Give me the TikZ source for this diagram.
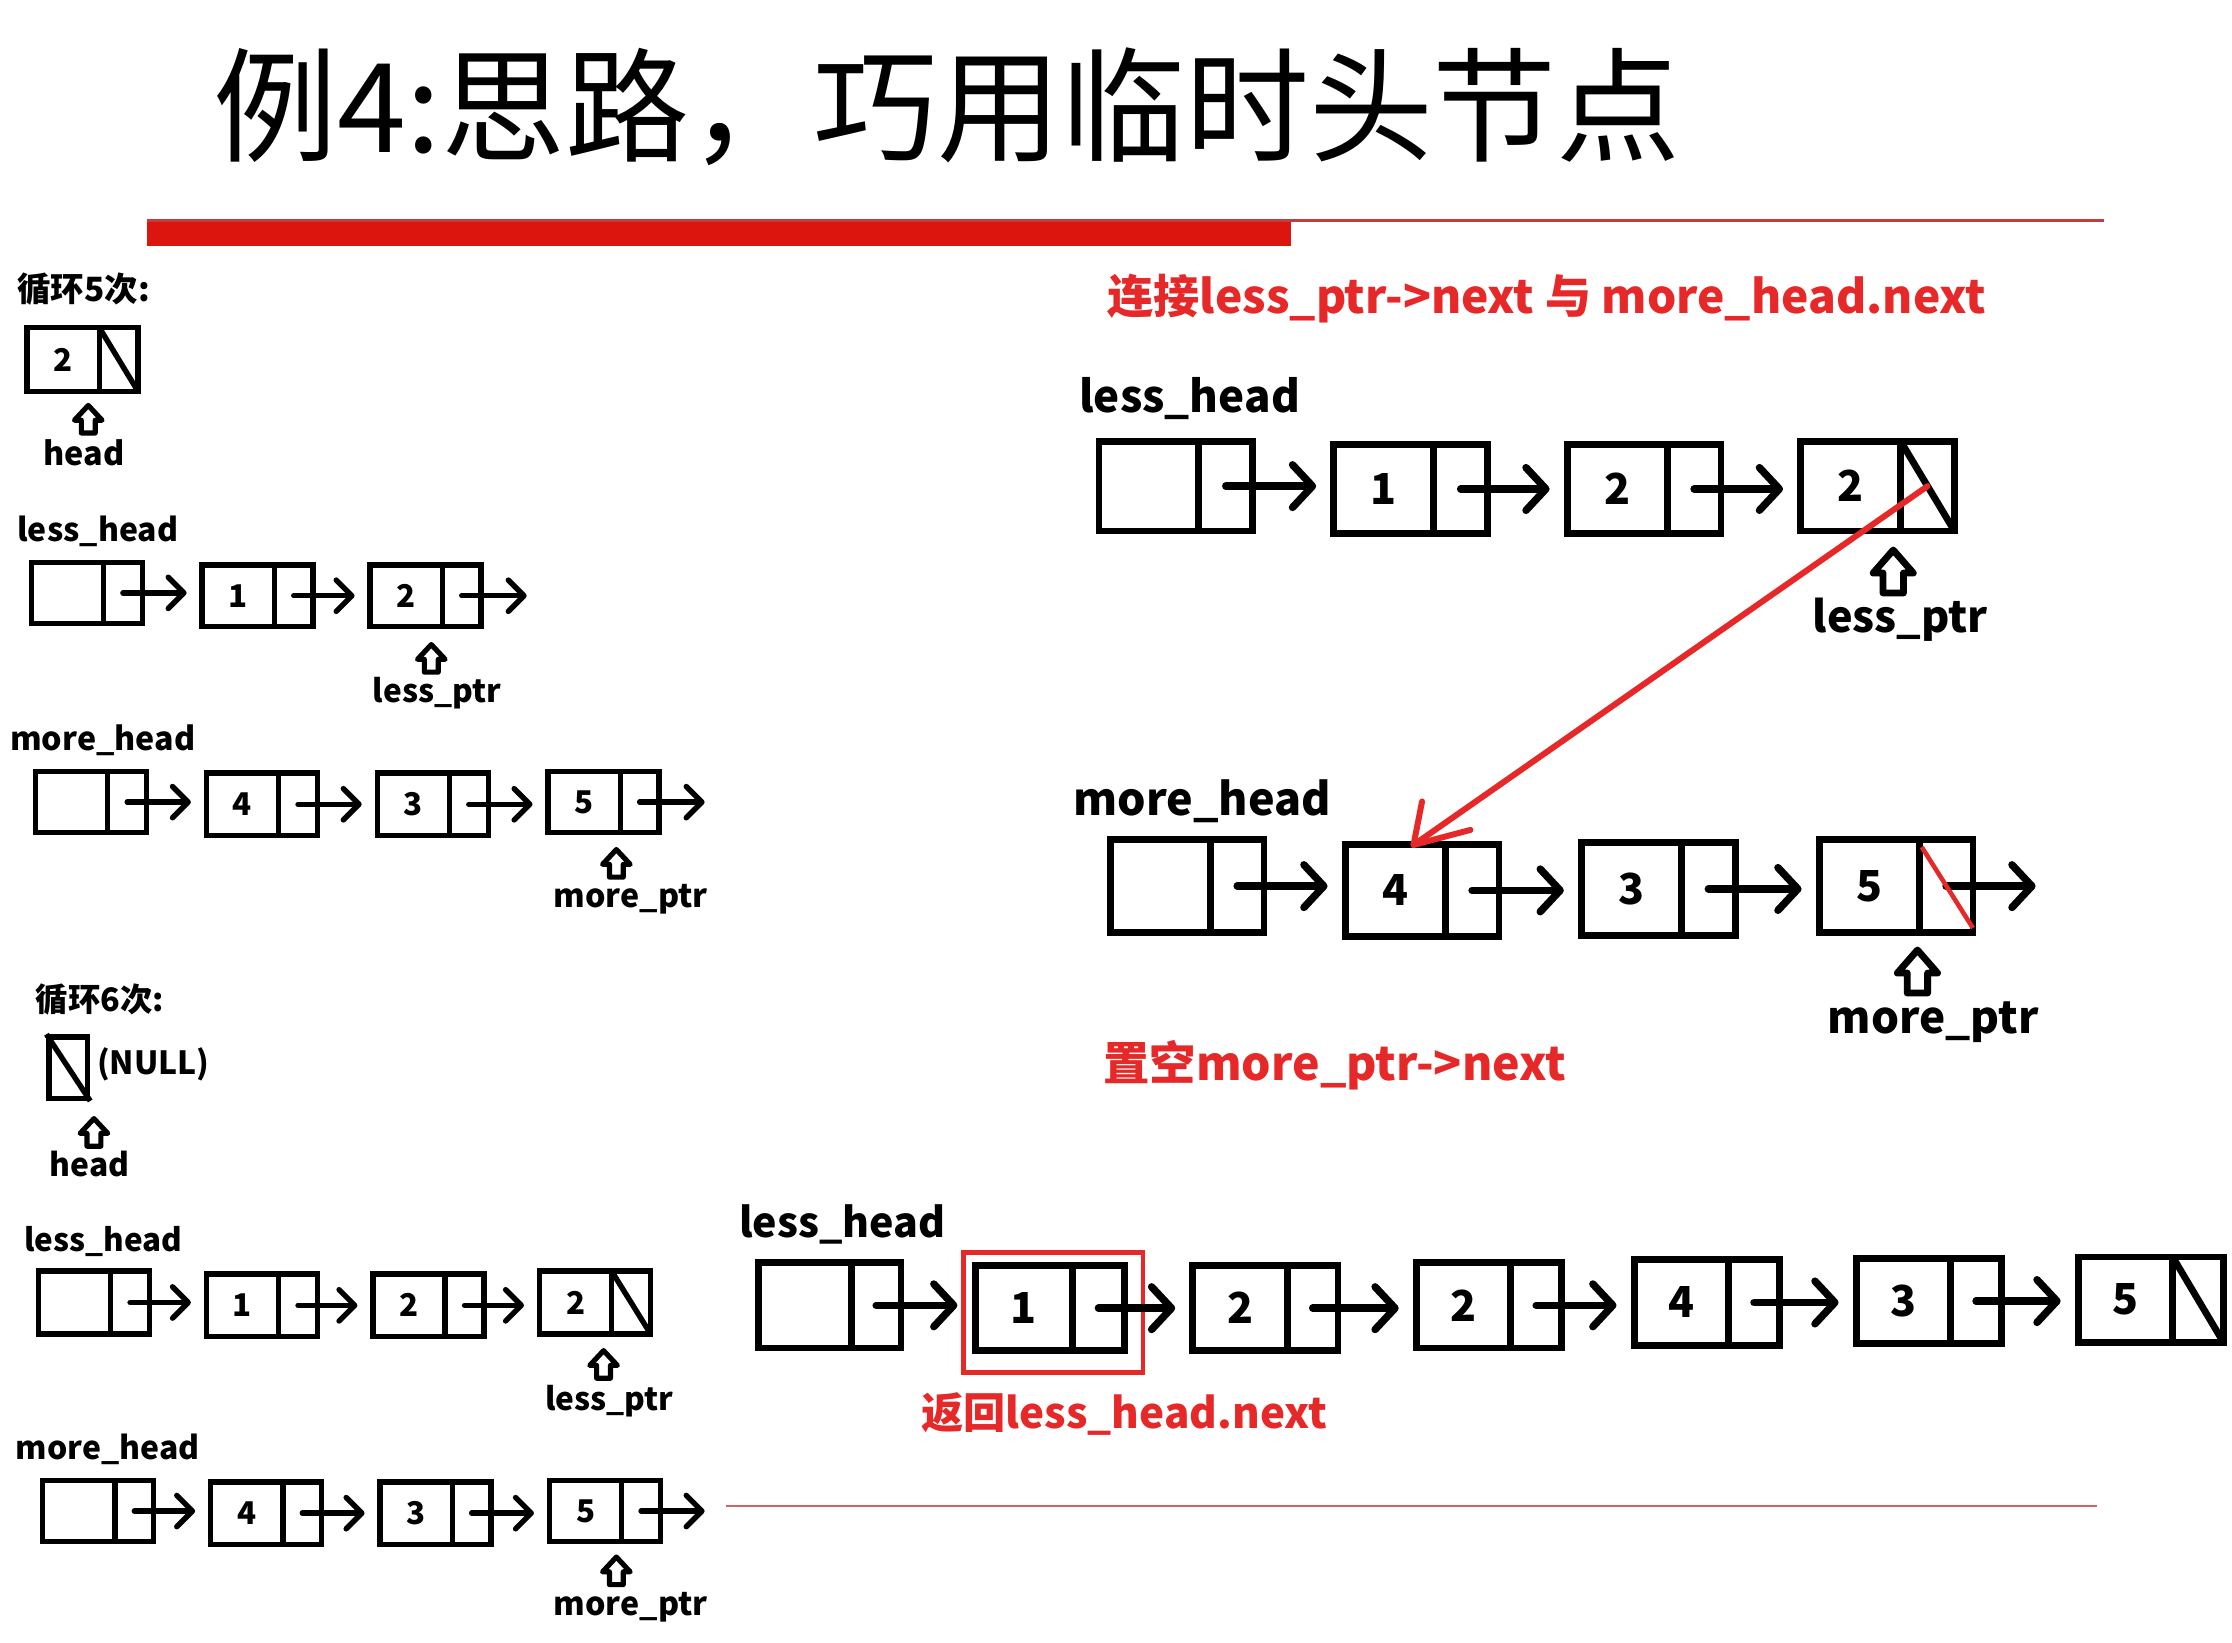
\documentclass[tikz,border=0pt]{standalone}
\usepackage{fontspec}
\usepackage{graphicx}
\setmainfont{Noto Sans CJK SC}
\newfontfamily\cjk{Noto Sans CJK SC}
\usetikzlibrary{arrows.meta}
\definecolor{pptred}{RGB}{230,40,40}
\definecolor{barred}{RGB}{220,22,14}
\definecolor{linered}{RGB}{196,60,60}
\newcommand\fw[2]{\resizebox{#1pt}{!}{#2}}
\tikzset{
 lbox/.style={draw, fill=white, rectangle, inner sep=0pt, line width=3.8pt},
 bline/.style={line width=3.8pt},
 digit/.style={inner sep=0pt, font=\bfseries\fontsize{22}{22}\selectfont},
 ptr/.style={line width=3.8pt, line cap=round, shorten >=9pt, -{Straight Barb[round,length=11pt,width=22pt]}},
 lab/.style={inner sep=0pt, anchor=west, font=\bfseries\fontsize{20}{24}\selectfont},
 redline/.style={pptred, line width=4.2pt, line cap=round, line join=round},
}
% linked list node: name x1 y1 x2 y2 value
\newcommand\LL[6]{%
 \node[lbox, minimum width={(#4-#2)*1pt}, minimum height={(#5-#3)*1pt}] (#1) at ({(#2+#4)/2},{(#3+#5)/2}) {};
 \draw[bline] ({#2+0.65*(#4-#2)},#3) -- ({#2+0.65*(#4-#2)},#5);
 \node[digit] (#1-v) at ({#2+0.325*(#4-#2)},{(#3+#5)/2}) {#6};
 \coordinate (#1-p) at ({#2+0.825*(#4-#2)},{(#3+#5)/2});
}
\newcommand\LLN[6]{\LL{#1}{#2}{#3}{#4}{#5}{#6}\draw[bline] ({#2+0.65*(#4-#2)},#3) -- (#4,#5);}
% hollow up arrow: x ytop ybottom outerwidth linewidth
\newcommand\uparr[5]{\draw[line width=#5pt, fill=white, line join=round]
 (#1,{#2+#5/2}) -- ({#1+#4/2-#5/2},{#2+0.53*(#3-#2)}) -- ({#1+0.29*#4-#5/2},{#2+0.53*(#3-#2)})
 -- ({#1+0.29*#4-#5/2},{#3-#5/2}) -- ({#1-0.29*#4+#5/2},{#3-#5/2}) -- ({#1-0.29*#4+#5/2},{#2+0.53*(#3-#2)})
 -- ({#1-#4/2+#5/2},{#2+0.53*(#3-#2)}) -- cycle;}
\begin{document}
\begin{tikzpicture}[x=1pt,y=-1pt]
\fill[white] (0,0) rectangle (1568,1154);
\useasboundingbox (0,0) rectangle (1568,1154);
% title
\node[inner sep=0pt, anchor=west] (title) at (150,75) {\fw{1030}{\cjk 例4:思路，巧用临时头节点}};
\fill[barred] (103,155) rectangle (907,173);
\draw[linered, line width=2pt] (103,155) -- (1478,155);
\draw[linered!80, line width=1.2pt] (510,1058) -- (1473,1058);

% ---------- left: loop 5 ----------
\node[lab] (t5) at (12,203) {\fw{93}{循环5次:}};
\LLN{h5}{19}{230}{97}{275}{2}
\uparr{62}{283}{306}{23}{3.6}
\node[lab, anchor=center] (h5l) at (59,318) {\fw{57}{head}};

\node[lab] (lh5) at (12,373) {\fw{113}{less\_head}};
\LL{a0}{22}{395}{100}{438}{}
\LL{a1}{142}{397}{220}{440}{1}
\LL{a2}{260}{397}{338}{440}{2}
\coordinate (aE) at (370,418);
\draw[ptr] (a0-p) -- (a0-p -| a1.west);
\draw[ptr] (a1-p) -- (a1-p -| a2.west);
\draw[ptr, shorten >=0pt] (a2-p) -- (a2-p -| aE);
\uparr{303}{451}{474}{23}{3.6}
\node[lab, anchor=center] (lp5) at (307,487) {\fw{90}{less\_ptr}};

\node[lab] (mh5) at (7,520) {\fw{130}{more\_head}};
\LL{b0}{25}{542}{103}{585}{}
\LL{b1}{145}{543}{223}{587}{4}
\LL{b2}{265}{543}{343}{587}{3}
\LL{b3}{385}{542}{463}{585}{5}
\coordinate (bE) at (495,563);
\draw[ptr] (b0-p) -- (b0-p -| b1.west);
\draw[ptr] (b1-p) -- (b1-p -| b2.west);
\draw[ptr] (b2-p) -- (b2-p -| b3.west);
\draw[ptr, shorten >=0pt] (b3-p) -- (b3-p -| bE);
\uparr{433}{595}{618}{23}{3.6}
\node[lab, anchor=center] (mp5) at (443,632) {\fw{108}{more\_ptr}};

% ---------- left: loop 6 ----------
\node[lab] (t6) at (25,702) {\fw{90}{循环6次:}};
\node[lbox, minimum width=27pt, minimum height=43pt] (n6) at (48,750) {};
\draw[bline] (n6.north west) -- (n6.south east);
\node[lab] (nl) at (68,748) {\fw{79}{(NULL)}};
\uparr{66}{784}{807}{23}{3.6}
\node[lab, anchor=center] (h6l) at (63,818) {\fw{56}{head}};

\node[lab] (lh6) at (17,872) {\fw{111}{less\_head}};
\LL{c0}{27}{893}{105}{937}{}
\LL{c1}{145}{895}{223}{939}{1}
\LL{c2}{262}{895}{340}{939}{2}
\LLN{c3}{379}{893}{457}{937}{2}
\draw[ptr] (c0-p) -- (c0-p -| c1.west);
\draw[ptr] (c1-p) -- (c1-p -| c2.west);
\draw[ptr] (c2-p) -- (c2-p -| c3.west);
\uparr{424}{947}{970}{23}{3.6}
\node[lab, anchor=center] (lp6) at (428,984) {\fw{90}{less\_ptr}};

\node[lab] (mh6) at (11,1018) {\fw{129}{more\_head}};
\LL{d0}{30}{1040}{108}{1083}{}
\LL{d1}{148}{1041}{226}{1085}{4}
\LL{d2}{267}{1041}{345}{1085}{3}
\LL{d3}{386}{1040}{464}{1083}{5}
\coordinate (dE) at (495,1062);
\draw[ptr] (d0-p) -- (d0-p -| d1.west);
\draw[ptr] (d1-p) -- (d1-p -| d2.west);
\draw[ptr] (d2-p) -- (d2-p -| d3.west);
\draw[ptr, shorten >=0pt] (d3-p) -- (d3-p -| dE);
\uparr{433}{1092}{1115}{23}{3.6}
\node[lab, anchor=center] (mp6) at (443,1129) {\fw{108}{more\_ptr}};

% ---------- right side (big) ----------
\begin{scope}[lbox/.append style={line width=4.8pt}, bline/.append style={line width=4.8pt},
  digit/.append style={font=\bfseries\fontsize{30}{30}\selectfont},
  ptr/.append style={line width=5.2pt, shorten >=10pt, -{Straight Barb[round,length=14pt,width=30pt]}}]
\node[lab, text=pptred] (r1) at (778,210) {\fw{617}{连接less\_ptr->next 与 more\_head.next}};
\node[lab] (lhR) at (758,280) {\fw{155}{less\_head}};
\LL{e0}{772}{310}{880}{373}{}
\LL{e1}{937}{312}{1045}{375}{1}
\LL{e2}{1101}{312}{1209}{375}{2}
\LLN{e3}{1265}{310}{1373}{373}{2}
\draw[ptr] (e0-p) -- (e0-p -| e1.west);
\draw[ptr] (e1-p) -- (e1-p -| e2.west);
\draw[ptr] (e2-p) -- (e2-p -| e3.west);
\uparr{1330}{384}{419}{33}{4.8}
\node[lab, anchor=center] (lpR) at (1335,435) {\fw{123}{less\_ptr}};

\node[lab] (mhR) at (754,563) {\fw{181}{more\_head}};
\LL{f0}{780}{590}{888}{655}{}
\LL{f1}{945}{593}{1053}{658}{4}
\LL{f2}{1111}{592}{1219}{657}{3}
\LL{f3}{1278}{590}{1386}{655}{5}
\coordinate (fE) at (1430,622);
\draw[ptr] (f0-p) -- (f0-p -| f1.west);
\draw[ptr] (f1-p) -- (f1-p -| f2.west);
\draw[ptr] (f2-p) -- (f2-p -| f3.west);
\draw[ptr, shorten >=0pt] (f3-p) -- (f3-p -| fE);
\uparr{1347}{665}{700}{33}{4.8}
\node[lab, anchor=center] (mpR) at (1358,718) {\fw{148}{more\_ptr}};
% red connector with hand-drawn style barbs
\coordinate (rtip) at ([xshift=-6pt,yshift=-3pt]f1.north);
\coordinate (rb1) at (999,563);
\coordinate (rb2) at (1033,583);
\draw[redline] (e3-p) -- (rtip);
\draw[redline] (rb1) -- (rtip) -- (rb2);
\draw[pptred, line width=3.2pt] (1350,595) -- (1386,652);
\node[lab, text=pptred] (r2) at (775,748) {\fw{325}{置空more\_ptr->next}};

% ---------- bottom chain ----------
\node[lab] (lhB) at (519,860) {\fw{145}{less\_head}};
\LL{g0}{533}{887}{633}{947}{}
\LL{g1}{685}{889}{790}{949}{1}
\LL{g2}{838}{889}{940}{949}{2}
\LL{g3}{995}{887}{1097}{947}{2}
\LL{g4}{1148}{885}{1250}{945}{4}
\LL{g5}{1304}{884}{1406}{944}{3}
\LLN{g6}{1460}{883}{1562}{943}{5}
\node[draw=pptred, line width=3.4pt, minimum width=126pt, minimum height=84pt, inner sep=0pt] (rb) at (740,922) {};
\draw[ptr] (g0-p) -- (g0-p -| g1.west);
\draw[ptr] (g1-p) -- (g1-p -| g2.west);
\draw[ptr] (g2-p) -- (g2-p -| g3.west);
\draw[ptr] (g3-p) -- (g3-p -| g4.west);
\draw[ptr] (g4-p) -- (g4-p -| g5.west);
\draw[ptr] (g5-p) -- (g5-p -| g6.west);
\node[lab, text=pptred] (r3) at (647,993) {\fw{285}{返回less\_head.next}};
\end{scope}
\end{tikzpicture}
\end{document}
